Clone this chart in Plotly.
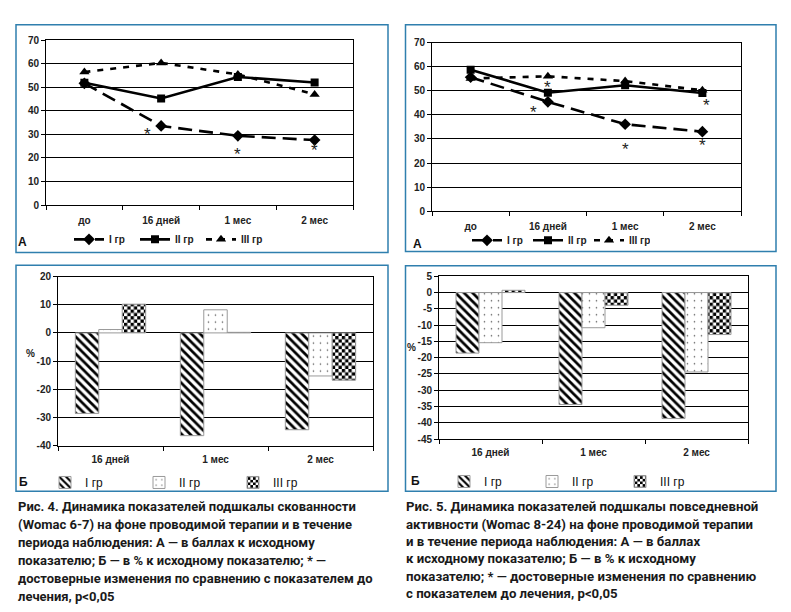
import plotly.graph_objects as go

W, H = 791, 612

# ---------------- data ----------------
line_categories = ["до", "16 дней", "1 мес", "2 мес"]
bar_categories = ["16 дней", "1 мес", "2 мес"]
group_names = ["I гр", "II гр", "III гр"]

# Fig 4 A (points)
f4a_g1 = [51.7, 33.6, 29.4, 27.6]
f4a_g2 = [52.0, 45.3, 54.4, 52.1]
f4a_g3 = [56.5, 60.4, 55.5, 47.0]
f4a_star_x = ["16 дней", "1 мес", "2 мес"]
f4a_star_y = [31.0, 22.5, 24.0]
f4a_star_dx = [-0.18, 0.0, 0.0]

# Fig 5 A (points)
f5a_g1 = [55.6, 45.4, 36.1, 33.0]
f5a_g2 = [58.7, 49.2, 52.3, 49.1]
f5a_g3 = [55.1, 56.0, 54.0, 50.2]
f5a_star_x = ["16 дней", "16 дней", "1 мес", "2 мес", "2 мес"]
f5a_star_y = [41.8, 52.0, 26.6, 28.0, 44.8]
f5a_star_dx = [-0.18, 0.0, 0.0, 0.0, 0.05]

# Fig 4 Б (%)
f4b_g1 = [-28.6, -36.5, -34.4]
f4b_g2 = [1.2, 8.2, -15.3]
f4b_g3 = [10.2, 0.2, -16.8]
f4b_ticks = [20, 10, 0, -10, -20, -30, -40]
f4b_ticklabels = ["20", "10", "0", "-10", "-20", "-30", "-40"]

# Fig 5 Б (%)
f5b_g1 = [-18.6, -34.4, -38.7]
f5b_g2 = [-15.4, -10.8, -24.4]
f5b_g3 = [0.7, -3.9, -12.9]
f5b_ticks = [5, 0, -5, -10, -15, -20, -25, -30, -35, -40, -45]
f5b_ticklabels = ["5", "0", "-5", "-10", "-15", "-20", "-25", "-30", "-35",
                  "-40", "-45"]

caption4 = [
    "Рис. 4. Динамика показателей подшкалы скованности",
    "(Womac 6-7) на фоне проводимой терапии и в течение",
    "периода наблюдения: А — в баллах к исходному",
    "показателю; Б — в % к исходному показателю; * —",
    "достоверные изменения по сравнению с показателем до",
    "лечения, p<0,05",
]
caption5 = [
    "Рис. 5. Динамика показателей подшкалы повседневной",
    "активности (Womac 8-24) на фоне проводимой терапии",
    "и в течение периода наблюдения: А — в баллах",
    "к исходному показателю; Б — в % к исходному",
    "показателю; * — достоверные изменения по сравнению",
    "с показателем до лечения, p<0,05",
]

# ---------------- helpers ----------------
def px(x):
    return x / W


def py(y):
    return 1 - y / H


CHART_FONT = "Liberation Sans"
FRAME = "#2f7fae"

fig = go.Figure()

line_styles = [
    dict(dash="14px,7px", symbol="diamond", msize=9),
    dict(dash="solid", symbol="square", msize=8),
    dict(dash="6px,7px", symbol="triangle-up", msize=9),
]


def add_lines(series, xa, ya, legend):
    for name, vals, st in zip(group_names, series, line_styles):
        fig.add_trace(go.Scatter(
            x=line_categories, y=vals, name=name, mode="lines+markers",
            line=dict(color="black", width=2.6, dash=st["dash"]),
            marker=dict(symbol=st["symbol"], size=st["msize"], color="black"),
            xaxis=xa, yaxis=ya, legend=legend,
        ))


def add_stars(xs, ys, dxs, xref, yref):
    idx = {c: i for i, c in enumerate(line_categories)}
    for c, yv, d in zip(xs, ys, dxs):
        fig.add_annotation(
            text="*", x=idx[c] + d, y=yv, xref=xref, yref=yref,
            showarrow=False, xanchor="center", yanchor="middle", yshift=-2,
            font=dict(family=CHART_FONT, size=17, color="#222"),
        )


def make_checker():
    try:
        return go.bar.marker.Pattern(
            path="M0,0H3.3V3.3H0ZM3.3,3.3H6.6V6.6H3.3Z",
            size=6.6, fgcolor="black", bgcolor="white", fillmode="replace",
        )
    except Exception:
        return go.bar.marker.Pattern(
            shape=".", size=4.6, solidity=0.55, fgcolor="black",
            bgcolor="white", fillmode="replace",
        )


bar_patterns = [
    go.bar.marker.Pattern(shape="\\", size=6, solidity=0.45, fgcolor="black",
                          bgcolor="white", fillmode="replace"),
    go.bar.marker.Pattern(shape=".", size=7, solidity=0.04, fgcolor="#555",
                          bgcolor="white", fillmode="replace"),
    make_checker(),
]


def add_bars(series, xa, ya, legend):
    for name, vals, pat in zip(group_names, series, bar_patterns):
        fig.add_trace(go.Bar(
            x=bar_categories, y=vals, name=name,
            marker=dict(color="white", pattern=pat,
                        line=dict(color="#9a9a9a", width=1)),
            xaxis=xa, yaxis=ya, legend=legend,
        ))


# ---------------- traces ----------------
add_lines([f4a_g1, f4a_g2, f4a_g3], "x", "y", "legend")
add_lines([f5a_g1, f5a_g2, f5a_g3], "x2", "y2", "legend2")
add_bars([f4b_g1, f4b_g2, f4b_g3], "x3", "y3", "legend3")
add_bars([f5b_g1, f5b_g2, f5b_g3], "x4", "y4", "legend4")

add_stars(f4a_star_x, f4a_star_y, f4a_star_dx, "x", "y")
add_stars(f5a_star_x, f5a_star_y, f5a_star_dx, "x2", "y2")

# ---------------- axes ----------------
tickfont = dict(family=CHART_FONT, size=10, color="#222", weight="bold")


def xcat(domain, anchor, standoff):
    return dict(domain=domain, anchor=anchor, type="category",
                showline=True, mirror=True, linecolor="black", linewidth=1,
                ticks="outside", ticklen=4, tickcolor="black",
                tickson="boundaries", showgrid=False, tickfont=tickfont,
                ticklabelstandoff=standoff, fixedrange=True)


def yval(domain, anchor, rng, dtick, tv=None, tt=None):
    d = dict(domain=domain, anchor=anchor, range=rng, dtick=dtick,
             showline=True, mirror=True, linecolor="black", linewidth=1,
             ticks="outside", ticklen=4, tickcolor="black",
             showgrid=True, gridcolor="black", gridwidth=1,
             zeroline=True, zerolinecolor="black", zerolinewidth=1,
             tickfont=tickfont, fixedrange=True)
    if tv is not None:
        d.update(tickmode="array", tickvals=tv, ticktext=tt)
    return d


d1x = [px(46), px(353)]
d1y = [py(203), py(35)]
d2x = [px(432), px(741)]
d2y = [py(209.3), py(37.3)]
d3x = [px(58), px(373)]
d3y = [py(448.3), py(276)]
d4x = [px(439), px(748)]
d4y = [py(441.7), py(275.7)]

fig.update_layout(
    xaxis=xcat(d1x, "y", 6),
    yaxis=yval(d1y, "x", [0, 70], 10),
    xaxis2=xcat(d2x, "y2", 6),
    yaxis2=yval(d2y, "x2", [0, 70], 10),
    xaxis3=xcat(d3x, "y3", 4),
    yaxis3=yval(d3y, "x3", [-40, 20], 10, f4b_ticks, f4b_ticklabels),
    xaxis4=xcat(d4x, "y4", 4),
    yaxis4=yval(d4y, "x4", [-45, 5], 5, f5b_ticks, f5b_ticklabels),
)
fig.update_layout(xaxis_range=[-0.5, 3.5], xaxis2_range=[-0.5, 3.5])

# ---------------- legends ----------------
legfont = dict(family=CHART_FONT, size=10, color="#222", weight="bold")


def line_legend(x, y, ew):
    return dict(orientation="h", x=px(x), y=py(y), xanchor="left",
                yanchor="middle", font=legfont, bgcolor="rgba(0,0,0,0)",
                itemwidth=30, tracegroupgap=0, itemclick=False,
                itemdoubleclick=False, entrywidth=ew, entrywidthmode="pixels")


def bar_legend(x, y, ew):
    return dict(orientation="h", x=px(x), y=py(y), xanchor="left",
                yanchor="middle", font=dict(family=CHART_FONT, size=12,
                                            color="#111"),
                bgcolor="rgba(0,0,0,0)", itemwidth=30,
                itemclick=False, itemdoubleclick=False,
                entrywidth=ew, entrywidthmode="pixels")


fig.update_layout(
    legend=line_legend(69, 238, 21),
    legend2=line_legend(467, 239, 16),
    legend3=bar_legend(45, 486, 49),
    legend4=bar_legend(444, 485, 43),
    barmode="group", bargap=0.33, bargroupgap=0,
)

# ---------------- frames & labels ----------------
frames = [(16, 19, 388, 251.5), (405.5, 19, 776, 250.5),
          (16, 264.5, 388, 495), (405.5, 265, 776, 495)]
for x0, y0, x1, y1 in frames:
    fig.add_shape(type="rect", xref="paper", yref="paper",
                  x0=px(x0), x1=px(x1), y0=py(y1), y1=py(y0),
                  line=dict(color=FRAME, width=1.5), fillcolor="rgba(0,0,0,0)")

panel_labels = [("А", 22, 241), ("А", 417, 243), ("Б", 23, 486), ("Б", 415, 485)]
for t, x, y in panel_labels:
    fig.add_annotation(text=t, xref="paper", yref="paper", x=px(x), y=py(y),
                       xanchor="center", yanchor="middle", showarrow=False,
                       font=dict(family=CHART_FONT, size=12, color="#111",
                                 weight="bold"))

for x, y in [(30, 354), (411, 348)]:
    fig.add_annotation(text="%", xref="paper", yref="paper", x=px(x), y=py(y),
                       xanchor="center", yanchor="middle", showarrow=False,
                       font=dict(family=CHART_FONT, size=10, color="#222",
                                 weight="bold"))

capfont4 = dict(family="Roboto", size=13.0, color="#1a1a1a", weight="bold")
capfont5 = dict(family="Roboto", size=13.2, color="#1a1a1a", weight="bold")
for i, line in enumerate(caption4):
    fig.add_annotation(text=line.replace("<", "&lt;"), xref="paper", yref="paper",
                       x=px(16), y=py(510.7 + 18.3 * i), xanchor="left",
                       yanchor="middle", showarrow=False, font=capfont4)
for i, line in enumerate(caption5):
    fig.add_annotation(text=line.replace("<", "&lt;"), xref="paper", yref="paper",
                       x=px(404), y=py(510.7 + 17.7 * i), xanchor="left",
                       yanchor="middle", showarrow=False, font=capfont5)

fig.update_layout(
    width=W, height=H, margin=dict(l=0, r=0, t=0, b=0),
    paper_bgcolor="white", plot_bgcolor="white", showlegend=True,
)

fig.write_html("out.html", config={"displayModeBar": False},
               post_script="document.body.style.margin='0';")
